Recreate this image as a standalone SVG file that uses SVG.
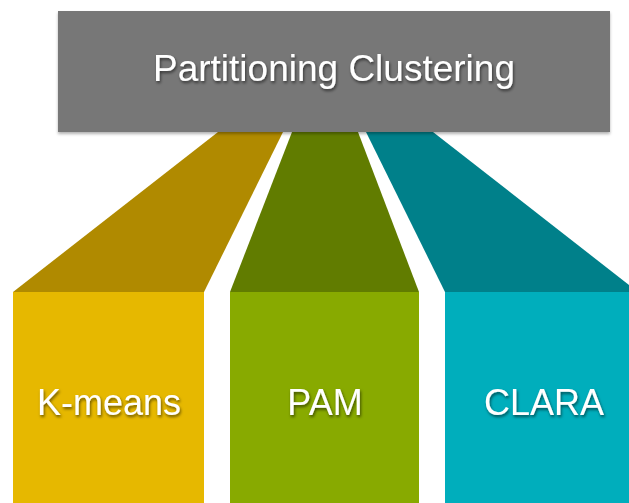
<svg xmlns="http://www.w3.org/2000/svg" width="629" height="503" viewBox="0 0 629 503">
  <defs>
    <filter id="txtShadow" x="-10%" y="-30%" width="120%" height="160%">
      <feDropShadow dx="1" dy="2" stdDeviation="1.5" flood-color="#000" flood-opacity="0.55"/>
    </filter>
    <filter id="boxShadow" x="-5%" y="-10%" width="110%" height="125%">
      <feDropShadow dx="0" dy="2" stdDeviation="1.5" flood-color="#000" flood-opacity="0.3"/>
    </filter>
  </defs>
  <style>
    .label { font-family: "Liberation Sans", Arial, sans-serif; font-size: 36px; fill: #ffffff; text-anchor: middle; filter: url(#txtShadow); }
    .title { font-family: "Liberation Sans", Arial, sans-serif; font-size: 37px; fill: #ffffff; text-anchor: middle; filter: url(#txtShadow); }
  </style>
  <rect width="629" height="503" fill="#ffffff"/>
  <g id="connectors">
    <polygon points="218,132 283,132 204,292 13,292" fill="#B08A00"/>
    <polygon points="292,132 358,132 419,292 230,292" fill="#617C00"/>
    <polygon points="366,132 433,132 638,292 445,292" fill="#00808A"/>
  </g>
  <g id="title">
    <rect x="58" y="11" width="552" height="121" fill="#777777" filter="url(#boxShadow)"/>
    <text class="title" x="334" y="81">Partitioning Clustering</text>
  </g>
  <g id="kmeans">
    <rect x="13" y="292" width="191" height="211" fill="#E6B800"/>
    <text class="label" x="109" y="415">K-means</text>
  </g>
  <g id="pam">
    <rect x="230" y="292" width="189" height="211" fill="#88AA00"/>
    <text class="label" x="325" y="415">PAM</text>
  </g>
  <g id="clara">
    <rect x="445" y="292" width="193" height="211" fill="#00AEBC"/>
    <text class="label" x="544" y="415">CLARA</text>
  </g>
</svg>
